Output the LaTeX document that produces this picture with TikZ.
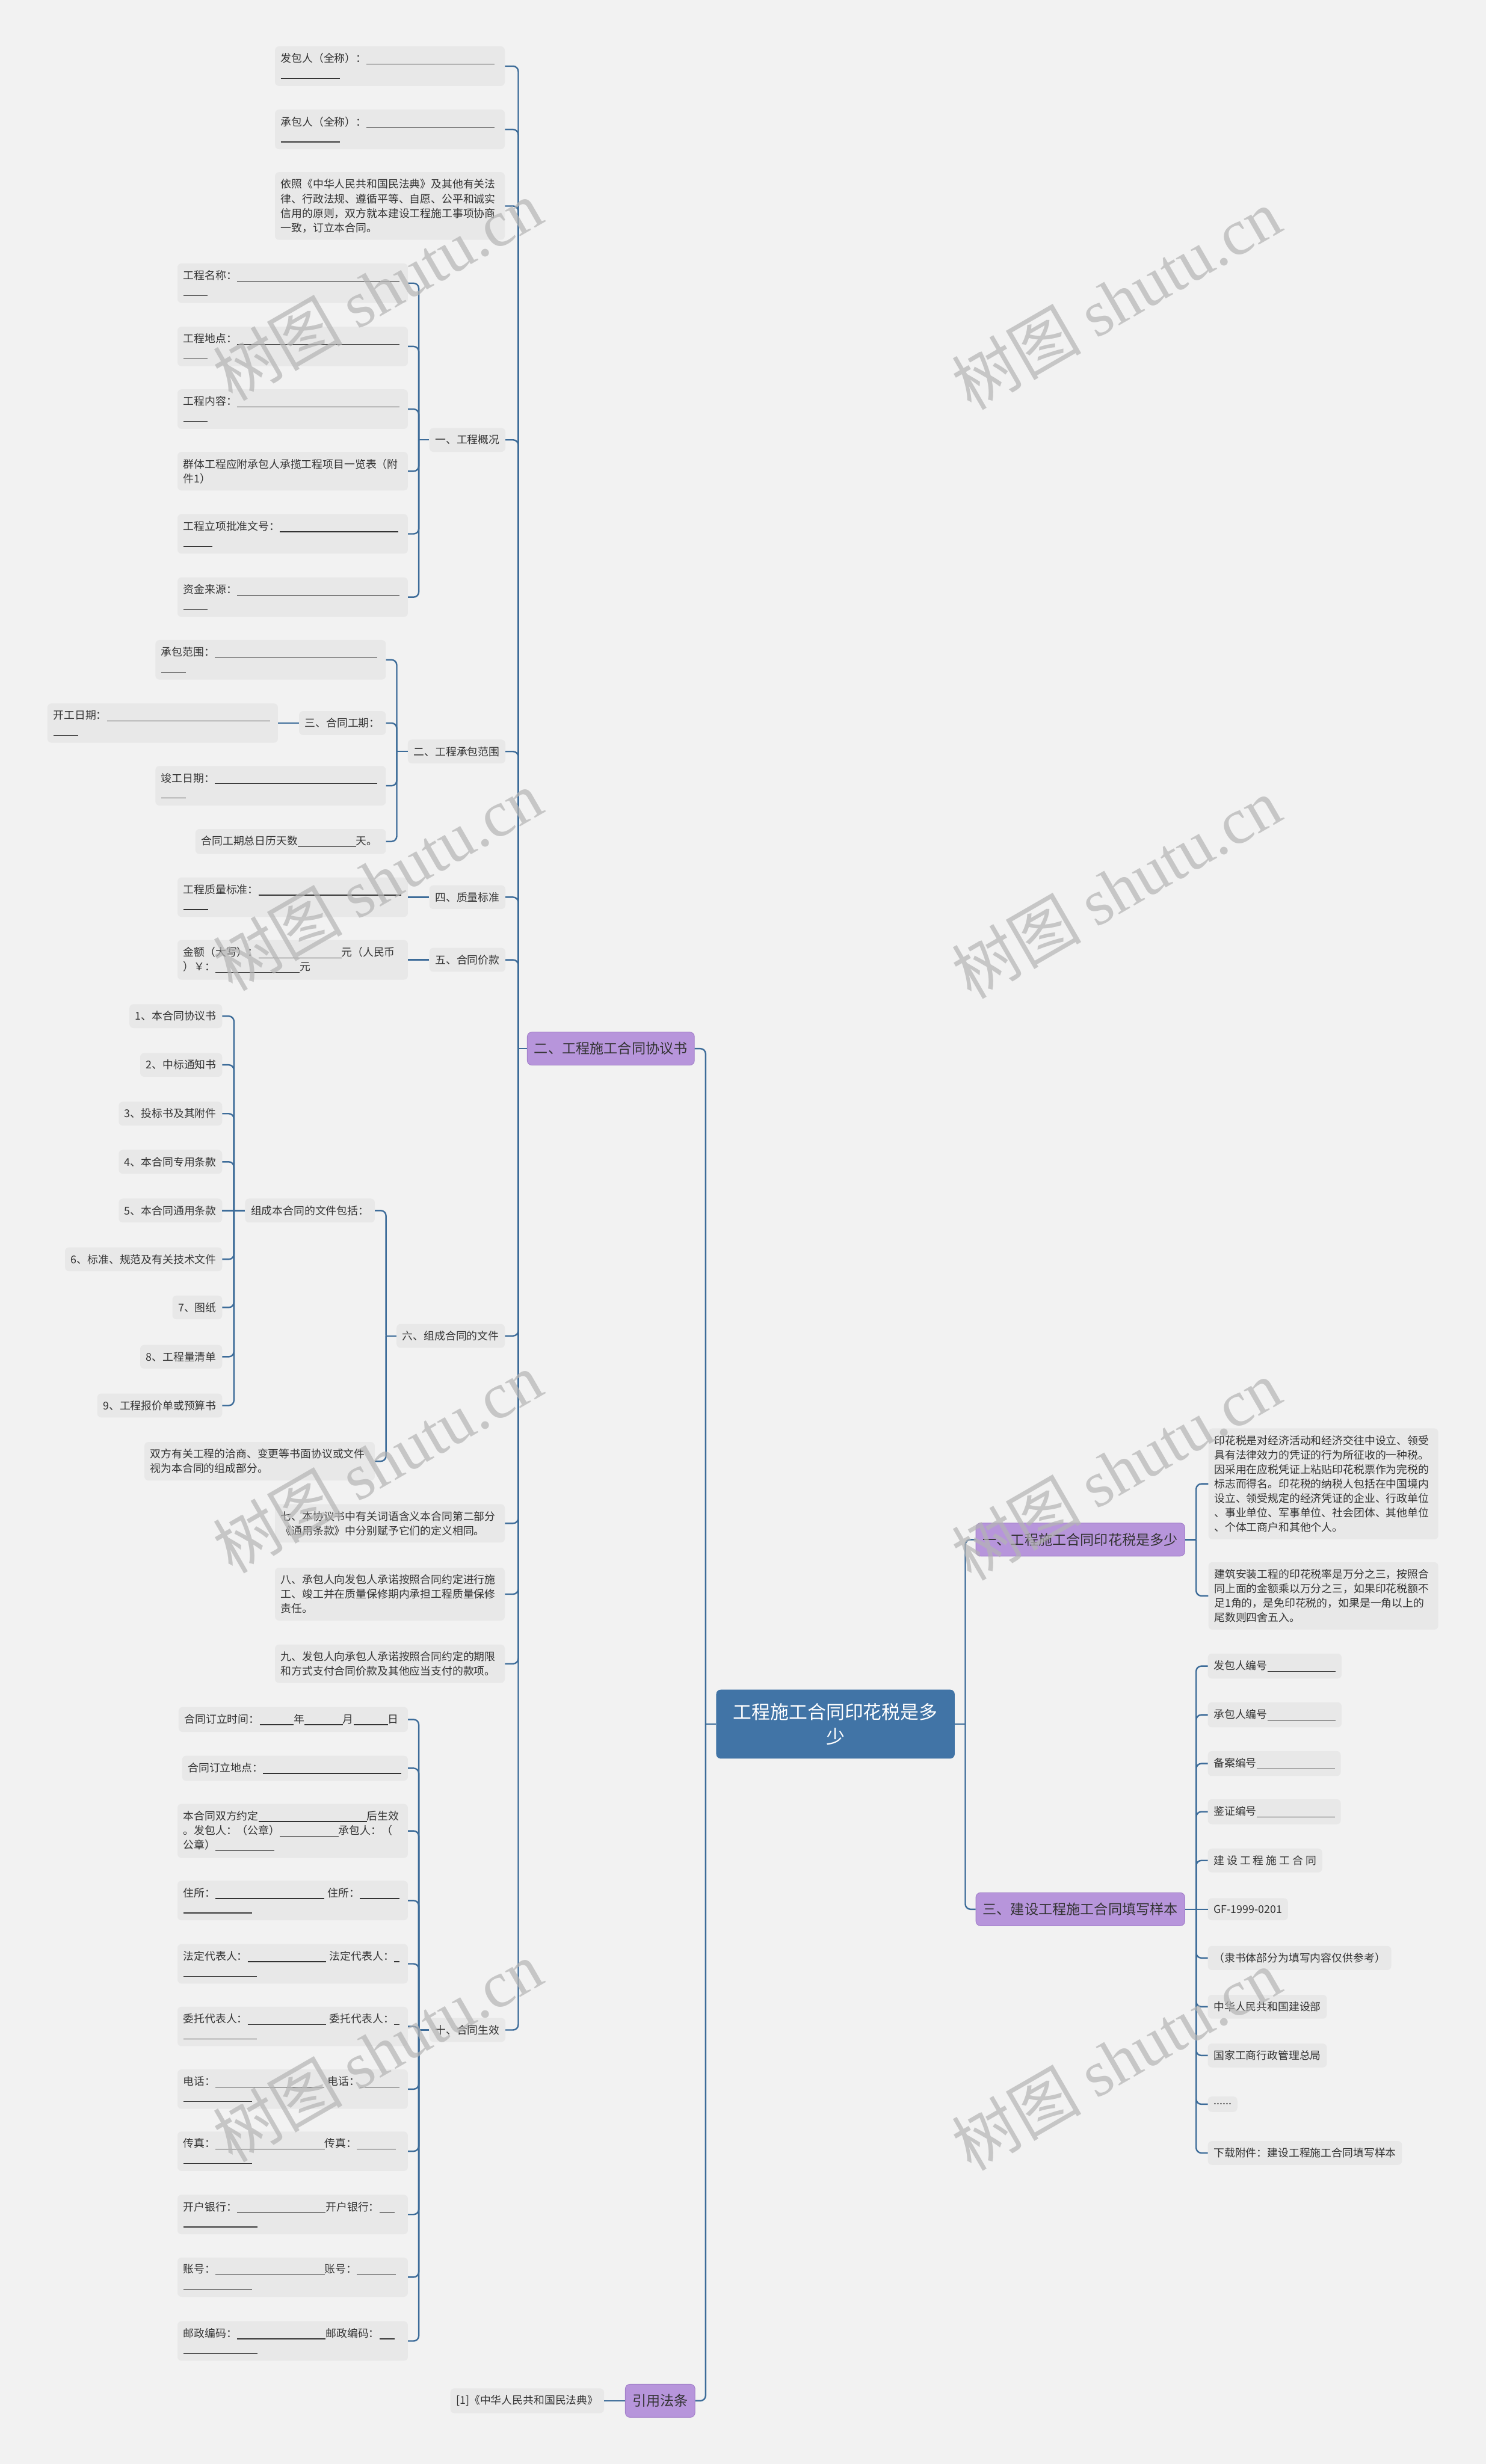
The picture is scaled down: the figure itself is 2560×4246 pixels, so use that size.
\documentclass[tikz,border=0pt]{standalone}
\usepackage{fontspec}
\setmainfont{Noto Sans CJK SC}
\newfontfamily\wmlat{Liberation Serif}
\usetikzlibrary{calc}
\definecolor{bgc}{HTML}{F2F2F2}
\definecolor{leafc}{HTML}{E8E8E8}
\definecolor{txt}{HTML}{333333}
\definecolor{linec}{HTML}{3D6C99}
\definecolor{rootc}{HTML}{4174A6}
\definecolor{purp}{HTML}{B795DB}
\definecolor{purpd}{HTML}{A27FC9}
\definecolor{wmc}{HTML}{B4B4B4}
\newcommand\bl[1]{\leavevmode\hbox to #1pt{\leaders\hrule height -2.2pt depth 3.5pt\hfill}}
\begin{document}
\begin{tikzpicture}[x=1pt,y=-1pt]
\tikzset{
 conn/.style={draw=linec, line width=2.5pt, rounded corners=9pt},
 leaf/.style={fill=leafc, rounded corners=7pt, inner xsep=10pt, inner ysep=12pt, text=txt, font=\fontsize{18.5}{25}\selectfont, align=left},
 mainbox/.style={fill=purp, draw=purpd, line width=1pt, rounded corners=8pt, text=txt, font=\fontsize{24}{30}\selectfont, inner xsep=12pt, inner ysep=6pt, minimum height=57pt},
 rootbox/.style={fill=rootc, text=white, rounded corners=8pt, font=\fontsize{32}{43}\selectfont, align=center, minimum width=411pt, minimum height=119pt},
 wm/.style={text=wmc, opacity=0.7, font=\fontsize{112}{112}\selectfont, rotate=30, inner sep=0pt}
}
\path[fill=bgc] (0,0) rectangle (2560,4246);

% root and main branches
\node[rootbox] (root) at (1439.5,2971) {工程施工合同印花税是多\\少};
\node[mainbox, anchor=east] (m2) at (1197,1807) {二、工程施工合同协议书};
\node[mainbox, anchor=east] (mlaw) at (1198,4137) {引用法条};
\node[mainbox, anchor=west] (m1) at (1681,2653) {一、工程施工合同印花税是多少};
\node[mainbox, anchor=west] (m3) at (1681,3290) {三、建设工程施工合同填写样本};

% children of 二
\node[leaf,anchor=east,text width=376pt] (a1) at (870,114) {发包人（全称）：\bl{220}\\\bl{102}};
\node[leaf,anchor=east,text width=376pt] (a2) at (870,223) {承包人（全称）：\bl{220}\\\bl{102}};
\node[leaf,anchor=east,text width=376pt] (a3) at (870,355) {依照《中华人民共和国民法典》及其他有关法\\律、行政法规、遵循平等、自愿、公平和诚实\\信用的原则，双方就本建设工程施工事项协商\\一致，订立本合同。};

\node[leaf,anchor=east] (g1) at (871,758) {一、工程概况};
\node[leaf,anchor=east,text width=377pt] (g1a) at (703,488) {工程名称：\bl{280}\\\bl{42}};
\node[leaf,anchor=east,text width=377pt] (g1b) at (703,597) {工程地点：\bl{280}\\\bl{42}};
\node[leaf,anchor=east,text width=377pt] (g1c) at (703,705) {工程内容：\bl{280}\\\bl{42}};
\node[leaf,anchor=east,text width=377pt] (g1d) at (703,812) {群体工程应附承包人承揽工程项目一览表（附\\件1）};
\node[leaf,anchor=east,text width=377pt] (g1e) at (703,920) {工程立项批准文号：\bl{204}\\\bl{50}};
\node[leaf,anchor=east,text width=377pt] (g1f) at (703,1029) {资金来源：\bl{280}\\\bl{42}};

\node[leaf,anchor=east] (g2) at (871,1295) {二、工程承包范围};
\node[leaf,anchor=east,text width=377pt] (g2a) at (665,1137) {承包范围：\bl{280}\\\bl{42}};
\node[leaf,anchor=east] (g2b) at (665,1246) {三、合同工期：};
\node[leaf,anchor=east,text width=377pt] (g2b1) at (479,1246) {开工日期：\bl{281}\\\bl{43}};
\node[leaf,anchor=east,text width=377pt] (g2c) at (665,1354) {竣工日期：\bl{280}\\\bl{42}};
\node[leaf,anchor=east,text width=308pt] (g2d) at (665,1450) {合同工期总日历天数\bl{100}天。};

\node[leaf,anchor=east] (g3) at (871,1546) {四、质量标准};
\node[leaf,anchor=east,text width=377pt] (g3a) at (703,1546) {工程质量标准：\bl{246}\\\bl{43}};
\node[leaf,anchor=east] (g4) at (871,1654) {五、合同价款};
\node[leaf,anchor=east,text width=377pt] (g4a) at (703,1654) {金额（大写）：\bl{143}元（人民币\\）￥：\bl{145}元};

\node[leaf,anchor=east] (g5) at (870,2302) {六、组成合同的文件};
\node[leaf,anchor=east] (g5a) at (646,2086) {组成本合同的文件包括：};
\node[leaf,anchor=east] (d1) at (383,1751) {1、本合同协议书};
\node[leaf,anchor=east] (d2) at (383,1835) {2、中标通知书};
\node[leaf,anchor=east] (d3) at (383,1919) {3、投标书及其附件};
\node[leaf,anchor=east] (d4) at (383,2002) {4、本合同专用条款};
\node[leaf,anchor=east] (d5) at (383,2086) {5、本合同通用条款};
\node[leaf,anchor=east] (d6) at (383,2170) {6、标准、规范及有关技术文件};
\node[leaf,anchor=east] (d7) at (383,2253) {7、图纸};
\node[leaf,anchor=east] (d8) at (383,2338) {8、工程量清单};
\node[leaf,anchor=east] (d9) at (383,2422) {9、工程报价单或预算书};
\node[leaf,anchor=east,text width=377pt] (g5b) at (646,2518) {双方有关工程的洽商、变更等书面协议或文件\\视为本合同的组成部分。};

\node[leaf,anchor=east,text width=376pt] (a7) at (870,2625) {七、本协议书中有关词语含义本合同第二部分\\《通用条款》中分别赋予它们的定义相同。};
\node[leaf,anchor=east,text width=376pt] (a8) at (870,2747) {八、承包人向发包人承诺按照合同约定进行施\\工、竣工并在质量保修期内承担工程质量保修\\责任。};
\node[leaf,anchor=east,text width=376pt] (a9) at (870,2867) {九、发包人向承包人承诺按照合同约定的期限\\和方式支付合同价款及其他应当支付的款项。};

\node[leaf,anchor=east] (g6) at (871,3498) {十、合同生效};
\node[leaf,anchor=east,text width=375pt] (h1) at (703,2963) {合同订立时间：\bl{59}年\bl{66}月\bl{59}日};
\node[leaf,anchor=east,text width=369pt] (h2) at (703,3047) {合同订立地点：\bl{238}};
\node[leaf,anchor=east,text width=377pt] (h3) at (703,3155) {本合同双方约定\bl{187}后生效\\。发包人：（公章）\bl{101}承包人：（\\公章）\bl{101}};
\node[leaf,anchor=east,text width=377pt] (h4) at (703,3275) {住所：\bl{187} 住所：\bl{68}\\\bl{119}};
\node[leaf,anchor=east,text width=377pt] (h5) at (703,3384) {法定代表人：\bl{135} 法定代表人：\bl{9}\\\bl{127}};
\node[leaf,anchor=east,text width=377pt] (h6) at (703,3492) {委托代表人：\bl{135} 委托代表人：\bl{9}\\\bl{127}};
\node[leaf,anchor=east,text width=377pt] (h7) at (703,3600) {电话：\bl{187} 电话：\bl{68}\\\bl{119}};
\node[leaf,anchor=east,text width=377pt] (h8) at (703,3707) {传真：\bl{188}传真：\bl{67}\\\bl{119}};
\node[leaf,anchor=east,text width=377pt] (h9) at (703,3816) {开户银行：\bl{153}开户银行：\bl{26}\\\bl{128}};
\node[leaf,anchor=east,text width=377pt] (h10) at (703,3924) {账号：\bl{188}账号：\bl{67}\\\bl{119}};
\node[leaf,anchor=east,text width=377pt] (h11) at (703,4034) {邮政编码：\bl{153}邮政编码：\bl{26}\\\bl{128}};

\node[leaf,anchor=east] (lawa) at (1041,4137) {{[1]}《中华人民共和国民法典》};

% right side
\node[leaf,anchor=west,text width=376pt] (r1a) at (2082,2557) {印花税是对经济活动和经济交往中设立、领受\\具有法律效力的凭证的行为所征收的一种税。\\因采用在应税凭证上粘贴印花税票作为完税的\\标志而得名。印花税的纳税人包括在中国境内\\设立、领受规定的经济凭证的企业、行政单位\\、事业单位、军事单位、社会团体、其他单位\\、个体工商户和其他个人。};
\node[leaf,anchor=west,text width=376pt] (r1b) at (2082,2750) {建筑安装工程的印花税率是万分之三，按照合\\同上面的金额乘以万分之三，如果印花税额不\\足1角的，是免印花税的，如果是一角以上的\\尾数则四舍五入。};

\node[leaf,anchor=west] (s1) at (2081,2871) {发包人编号\bl{118}};
\node[leaf,anchor=west] (s2) at (2081,2955) {承包人编号\bl{118}};
\node[leaf,anchor=west] (s3) at (2081,3039) {备案编号\bl{135}};
\node[leaf,anchor=west] (s4) at (2081,3122) {鉴证编号\bl{135}};
\node[leaf,anchor=west] (s5) at (2081,3206) {建 设 工 程 施 工 合 同};
\node[leaf,anchor=west] (s6) at (2081,3290) {GF-1999-0201};
\node[leaf,anchor=west] (s7) at (2081,3374) {（隶书体部分为填写内容仅供参考）};
\node[leaf,anchor=west] (s8) at (2081,3458) {中华人民共和国建设部};
\node[leaf,anchor=west] (s9) at (2081,3542) {国家工商行政管理总局};
\node[leaf,anchor=west] (s10) at (2081,3626) {......};
\node[leaf,anchor=west] (s11) at (2081,3710) {下载附件：建设工程施工合同填写样本};

% connectors
\coordinate (bR0) at ($(root.west)+(-18,0)$);
\draw[conn] (root.west) -- (bR0);
\draw[conn] (bR0) |- (m2.east);
\draw[conn] (bR0) |- (mlaw.east);
\coordinate (bR1) at ($(root.east)+(18,0)$);
\draw[conn] (root.east) -- (bR1);
\draw[conn] (bR1) |- (m1.west);
\draw[conn] (bR1) |- (m3.west);

\coordinate (b2) at ($(m2.west)+(-15,0)$);
\draw[conn] (m2.west) -- (b2);
\foreach \c in {a1,a2,a3,g1,g2,g3,g4,g5,a7,a8,a9,g6} \draw[conn] (b2) |- (\c.east);

\coordinate (bg1) at ($(g1.west)+(-18,0)$);
\draw[conn] (g1.west) -- (bg1);
\foreach \c in {g1a,g1b,g1c,g1d,g1e,g1f} \draw[conn] (bg1) |- (\c.east);

\coordinate (bg2) at ($(g2.west)+(-19,0)$);
\draw[conn] (g2.west) -- (bg2);
\foreach \c in {g2a,g2b,g2c,g2d} \draw[conn] (bg2) |- (\c.east);
\draw[conn] (g2b.west) -- (g2b1.east);

\draw[conn] (g3.west) -- (g3a.east);
\draw[conn] (g4.west) -- (g4a.east);

\coordinate (bg5) at ($(g5.west)+(-18,0)$);
\draw[conn] (g5.west) -- (bg5);
\foreach \c in {g5a,g5b} \draw[conn] (bg5) |- (\c.east);

\coordinate (bg5a) at ($(g5a.west)+(-19,0)$);
\draw[conn] (g5a.west) -- (d5.east);
\foreach \c in {d1,d2,d3,d4,d6,d7,d8,d9} \draw[conn] (bg5a) |- (\c.east);

\coordinate (bg6) at ($(g6.west)+(-18,0)$);
\draw[conn] (g6.west) -- (bg6);
\foreach \c in {h1,h2,h3,h4,h5,h6,h7,h8,h9,h10,h11} \draw[conn] (bg6) |- (\c.east);

\draw[conn] (mlaw.west) -- (lawa.east);

\coordinate (bm1) at ($(m1.east)+(19,0)$);
\draw[conn] (m1.east) -- (bm1);
\foreach \c in {r1a,r1b} \draw[conn] (bm1) |- (\c.west);

\coordinate (bm3) at ($(m3.east)+(19,0)$);
\draw[conn] (m3.east) -- (s6.west);
\foreach \c in {s1,s2,s3,s4,s5,s7,s8,s9,s10,s11} \draw[conn] (bm3) |- (\c.west);

% watermarks
\node[wm] (w1) at (650,500) {树图 {\wmlat shutu.cn}};
\node[wm] (w2) at (1923,515) {树图 {\wmlat shutu.cn}};
\node[wm] (w3) at (650,1517) {树图 {\wmlat shutu.cn}};
\node[wm] (w4) at (1923,1530) {树图 {\wmlat shutu.cn}};
\node[wm] (w5) at (650,2520) {树图 {\wmlat shutu.cn}};
\node[wm] (w6) at (1923,2533) {树图 {\wmlat shutu.cn}};
\node[wm] (w7) at (650,3535) {树图 {\wmlat shutu.cn}};
\node[wm] (w8) at (1923,3549) {树图 {\wmlat shutu.cn}};
\end{tikzpicture}
\end{document}
